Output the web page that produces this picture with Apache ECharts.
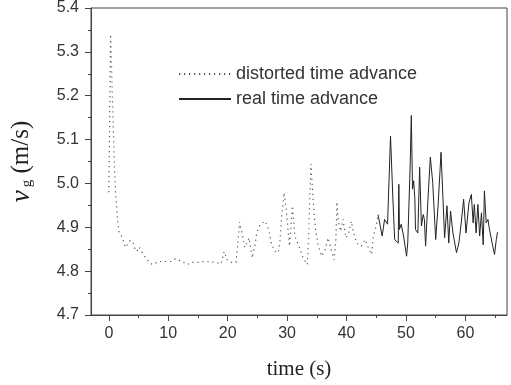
<!DOCTYPE html>
<html>
<head>
<meta charset="utf-8">
<script src="https://cdn.jsdelivr.net/npm/echarts@6/dist/echarts.min.js"></script>
<style>
  html, body { margin: 0; padding: 0; background: #fff; }
  #chart { width: 511px; height: 385px; }
</style>
</head>
<body>
<div id="chart"></div>
<script>
// distorted time advance (dotted)
const distortedT = [
  0, 0.3, 0.7, 0.96, 1.12, 1.3, 1.45, 1.7, 2.25, 2.8,
  3.6, 4.1, 4.4, 4.7, 5.1, 5.7, 6.5, 7.3, 8.4, 9.35,
  10.5, 11.2, 12.1, 13.2, 14.0, 15.1, 16.2, 17.1, 17.9, 18.9,
  19.4, 19.9, 20.7, 21.4, 21.8, 22.0, 22.4, 22.9, 23.6, 24.1,
  24.6, 24.9, 25.5, 26.3, 26.9, 27.4, 28.0, 28.5, 28.8, 29.1,
  29.5, 29.9, 30.4, 30.9, 31.3, 31.9, 32.7, 33.4, 33.6, 33.8,
  34.0, 34.3, 34.7, 35.2, 35.8, 36.4, 36.9, 37.5, 37.9, 38.2,
  38.4, 38.6, 39.0, 39.4, 39.9, 40.3, 40.8, 41.2, 41.7, 42.5,
  43.1, 43.8, 44.2, 44.5, 45.0, 45.3
];
const distortedV = [
  4.98, 5.34, 5.15, 5.03, 4.98, 4.95, 4.92, 4.89, 4.877, 4.854,
  4.87, 4.865, 4.85, 4.845, 4.855, 4.84, 4.825, 4.815, 4.822, 4.822,
  4.822, 4.828, 4.823, 4.815, 4.82, 4.82, 4.822, 4.822, 4.82, 4.817,
  4.845, 4.826, 4.82, 4.82, 4.876, 4.912, 4.888, 4.854, 4.876, 4.83,
  4.86, 4.888, 4.907, 4.914, 4.895, 4.86, 4.845, 4.842, 4.87, 4.926,
  4.979, 4.934, 4.857, 4.949, 4.88, 4.86, 4.83, 4.815, 4.872, 4.964,
  5.044, 4.98, 4.903, 4.86, 4.834, 4.849, 4.876, 4.845, 4.826, 4.872,
  4.958, 4.914, 4.891, 4.918, 4.876, 4.884, 4.914, 4.887, 4.864, 4.857,
  4.872, 4.849, 4.838, 4.88, 4.903, 4.929
];
// real time advance (solid)
const realT = [
  45.3, 46.0, 46.4, 46.9, 47.4, 47.8, 48.1, 48.7, 48.8, 48.9,
  49.2, 49.6, 50.1, 50.3, 50.6, 50.7, 50.9, 51.1, 51.3, 51.5,
  51.6, 52.0, 52.3, 52.6, 52.9, 53.1, 53.3, 53.7, 54.1, 54.5,
  55.0, 55.4, 55.9, 56.5, 56.9, 57.2, 57.5, 57.9, 58.5, 58.9,
  59.3, 59.7, 60.1, 60.6, 61.0, 61.3, 61.5, 61.8, 62.1, 62.4,
  62.7, 63.0, 63.2, 63.5, 63.8, 64.0, 64.5, 64.9, 65.2, 65.4
];
const realV = [
  4.929, 4.88, 4.918, 4.907, 5.108, 4.964, 4.872, 4.864, 4.998, 4.895,
  4.907, 4.88, 4.834, 4.864, 4.868, 5.04, 5.155, 4.987, 5.006, 4.964,
  4.895, 4.887, 5.037, 4.903, 4.929, 4.918, 4.857, 4.964, 5.06, 5.002,
  4.872, 4.949, 5.071, 4.876, 4.949, 4.864, 4.937, 4.887, 4.842, 4.864,
  4.91, 4.964, 4.887, 4.956, 4.975, 4.91, 4.952, 4.887, 4.952, 4.88,
  4.933, 4.86, 4.983, 4.91, 4.918, 4.899, 4.864, 4.838, 4.872, 4.889
];
const xMajor = [0, 10, 20, 30, 40, 50, 60];
const xMinor = [5, 15, 25, 35, 45, 55, 65];

const chart = echarts.init(document.getElementById('chart'));
const axisColor = '#444';
const sans = 'Liberation Sans, Arial, sans-serif';
const serif = 'Liberation Serif, Times New Roman, serif';

const option = {
  animation: false,
  grid: {
    left: 91, right: 4, top: 8, bottom: 70,
    show: true, borderColor: axisColor, borderWidth: 1
  },
  legend: {
    orient: 'vertical',
    left: 173, top: 60,
    itemWidth: 52, itemHeight: 14, itemGap: 7,
    itemStyle: { opacity: 0 },
    textStyle: { fontFamily: sans, fontSize: 18, color: '#333' },
    data: ['distorted time advance', 'real time advance']
  },
  xAxis: [
    {
      type: 'value', min: -3, max: 67,
      splitLine: { show: false },
      axisLine: { onZero: false, lineStyle: { color: axisColor } },
      axisTick: { inside: false, length: 6, lineStyle: { color: axisColor }, customValues: xMajor },
      axisLabel: { customValues: xMajor, margin: 11, fontFamily: sans, fontSize: 16, color: '#333' },
      name: 'time (s)', nameLocation: 'middle', nameGap: 44,
      nameTextStyle: { fontFamily: serif, fontSize: 21, color: '#222' }
    },
    {
      type: 'value', min: -3, max: 67, position: 'bottom',
      splitLine: { show: false },
      axisLine: { show: false, onZero: false },
      axisTick: { length: 3, lineStyle: { color: axisColor }, customValues: xMinor },
      axisLabel: { show: false }
    }
  ],
  yAxis: {
    type: 'value', min: 4.7, max: 5.4, interval: 0.1,
    splitLine: { show: false },
    axisLine: { show: true, onZero: false, lineStyle: { color: axisColor } },
    axisTick: { length: 6, lineStyle: { color: axisColor } },
    minorTick: { show: true, splitNumber: 2, length: 3, lineStyle: { color: axisColor } },
    axisLabel: {
      margin: 12, fontFamily: sans, fontSize: 16, color: '#333',
      formatter: v => v.toFixed(1)
    },
    name: '{i|v}{sub|g}{n| (m/s)}', nameLocation: 'middle', nameGap: 56,
    nameTextStyle: {
      fontFamily: serif, fontSize: 25, color: '#222',
      rich: {
        i: { fontFamily: serif, fontSize: 27, fontStyle: 'italic', color: '#222' },
        sub: { fontFamily: serif, fontSize: 15, color: '#222', verticalAlign: 'bottom', padding: [12, 0, 0, 3] },
        n: { fontFamily: serif, fontSize: 25, color: '#222' }
      }
    }
  },
  series: [
    {
      name: 'distorted time advance',
      type: 'line',
      symbol: 'none',
      data: distortedT.map((t, i) => [t, distortedV[i]]),
      lineStyle: { color: '#555', width: 1.2, type: [1.2, 3.8] }
    },
    {
      name: 'real time advance',
      type: 'line',
      symbol: 'none',
      data: realT.map((t, i) => [t, realV[i]]),
      lineStyle: { color: '#222', width: 1 }
    }
  ]
};
chart.setOption(option);
</script>
</body>
</html>
